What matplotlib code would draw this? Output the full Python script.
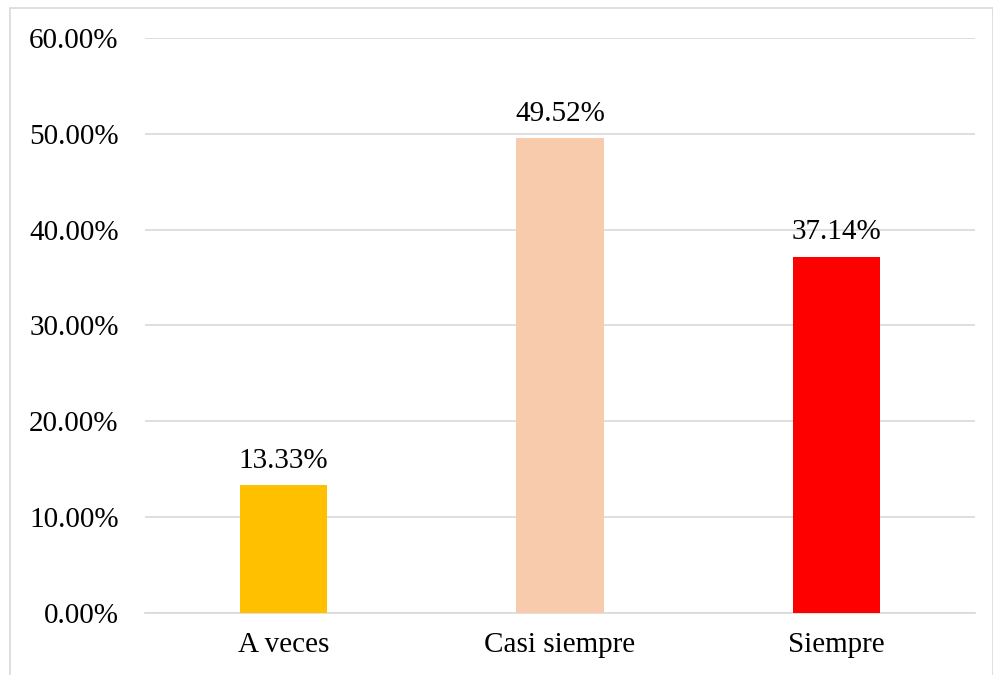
import matplotlib.pyplot as plt
from matplotlib.patches import Rectangle

categories = ['A veces', 'Casi siempre', 'Siempre']
values = [13.33, 49.52, 37.14]
colors = ['#FFC000', '#F8CBAD', '#FF0000']
yticks = [0, 10, 20, 30, 40, 50, 60]

plt.rcParams['font.family'] = ['Liberation Serif', 'DejaVu Serif']

fig = plt.figure(figsize=(9.93, 6.75), dpi=100)
ax = fig.add_axes([0.146, 0.092, 0.836, 0.852])

x = range(len(categories))
ax.bar(x, values, width=0.315, color=colors, zorder=3)
for xi, v in zip(x, values):
    ax.text(xi, v + 1.2, f'{v:.2f}%', ha='center', va='bottom', fontsize=21, zorder=4)

ax.set_xlim(-0.5, 2.5)
ax.set_ylim(0, 60)
ax.set_yticks(yticks)
ax.set_yticklabels([f'{t:.2f}%' for t in yticks], fontsize=21)
ax.set_xticks(list(x))
ax.set_xticklabels(categories, fontsize=21)
ax.tick_params(axis='y', length=0, pad=19)
ax.tick_params(axis='x', length=0, pad=14)
ax.grid(axis='y', color='#d9d9d9', linewidth=1.2, zorder=0)
for s in ['top', 'right', 'left']:
    ax.spines[s].set_visible(False)
ax.spines['bottom'].set_color('#d9d9d9')
ax.spines['bottom'].set_linewidth(1.2)

fig.patches.append(Rectangle((0.010, -0.01), 0.99, 0.998, transform=fig.transFigure,
                             fill=False, edgecolor='#d9d9d9', linewidth=1.2))

fig.savefig('out.png', dpi=100)
